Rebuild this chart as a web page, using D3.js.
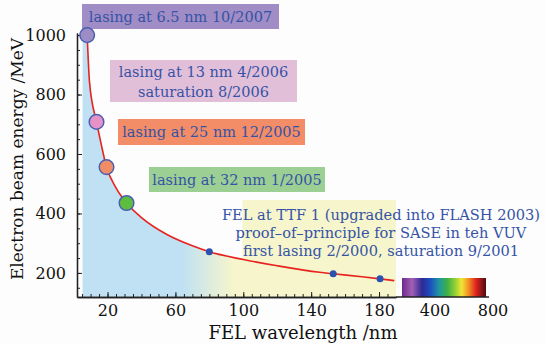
<!DOCTYPE html>
<html>
<head>
<meta charset="utf-8">
<script src="https://cdn.jsdelivr.net/npm/d3@7"></script>
<style>
  body { margin: 0; background: #fdfdfd; }
  svg { font-family: "DejaVu Serif", serif; }
</style>
</head>
<body>
<svg width="546" height="344"></svg>
<script>
// wavelength (nm) and beam energy (MeV)
const curveNm = [5.3, 8, 9.4, 13.5, 16, 19.4, 25, 31.2, 40, 55, 70, 80, 100, 120, 145, 153, 170, 180.6, 189];
const curveMeV = [985, 1000, 840, 708, 640, 556, 486, 435, 386, 329, 291, 271, 245, 224, 202, 197, 187, 180, 174];

// milestone points (big circles)
const milestoneNm = [8, 13.5, 19.4, 31.2];
const milestoneMeV = [1000, 708, 556, 435];
const milestoneColor = ['#9d8cc6', '#e592c8', '#f08c66', '#5dbd3f'];
const noteColor = ['#a08dc5', '#e2bfd9', '#f28d68', '#9ccf93'];

// TTF1 points (small dots)
const ttfNm = [80, 153, 180.6];
const ttfMeV = [271, 197, 180];

const xTicks = [20, 60, 100, 140, 180];
const yTicks = [200, 400, 600, 800, 1000];
const spectrumTicks = [400, 800];

const notes = [
    ['lasing at 6.5 nm 10/2007'],
    ['lasing at 13 nm 4/2006', 'saturation 8/2006'],
    ['lasing at 25 nm 12/2005'],
    ['lasing at 32 nm 1/2005'],
];
const ttfNote = [
    'FEL at TTF 1 (upgraded into FLASH 2003)',
    'proof\u2013of\u2013principle for SASE in teh VUV',
    'first lasing 2/2000, saturation 9/2001',
];

const svg = d3.select('svg');

const xScale = d3.scaleLinear().domain([2, 190]).range([77, 396]);
const yScale = d3.scaleLinear().domain([119, 1007]).range([297, 33]);
const specScale = d3.scaleLinear().domain([400, 800]).range([435, 493]);

const blue = '#bfe1f3';
const yellow = '#f6f5cc';
const textBlue = '#3553a6';

// gradient for the area under the curve
const defs = svg.append('defs');
const grad = defs.append('linearGradient')
    .attr('id', 'fill')
    .attr('gradientUnits', 'userSpaceOnUse')
    .attr('x1', xScale(64)).attr('x2', xScale(94))
    .attr('y1', 0).attr('y2', 0);
grad.append('stop').attr('offset', 0).attr('stop-color', blue);
grad.append('stop').attr('offset', 1).attr('stop-color', yellow);

const spec = defs.append('linearGradient').attr('id', 'spec');
[['0', '#6b2b8b'], ['0.12', '#a260b4'], ['0.24', '#2b2a96'], ['0.34', '#1d4fbf'],
 ['0.44', '#1f95a2'], ['0.54', '#3fb043'], ['0.64', '#9ad234'], ['0.71', '#f2e633'],
 ['0.79', '#f29224'], ['0.88', '#e0231f'], ['1', '#4f0a12']]
    .forEach(s => spec.append('stop').attr('offset', s[0]).attr('stop-color', s[1]));

// yellow box behind TTF note
svg.append('rect')
    .attr('x', xScale(99.5)).attr('y', yScale(445))
    .attr('width', xScale(190) - xScale(99.5))
    .attr('height', yScale(119) - yScale(445))
    .attr('fill', yellow);

const pts = curveNm.map((d, i) => ({ nm: d, mev: curveMeV[i] }));

const area = d3.area()
    .x(d => xScale(d.nm))
    .y0(yScale(119))
    .y1(d => yScale(d.mev))
    .curve(d3.curveMonotoneX);

svg.append('path')
    .datum(pts)
    .attr('d', area)
    .attr('fill', 'url(#fill)');

const line = d3.line()
    .x(d => xScale(d.nm))
    .y(d => yScale(d.mev))
    .curve(d3.curveMonotoneX);

svg.append('path')
    .datum(pts.slice(1))
    .attr('d', line)
    .attr('fill', 'none')
    .attr('stroke', '#e8231f')
    .attr('stroke-width', 1.6);

// axes
svg.append('g')
    .attr('transform', `translate(${xScale(2)},0)`)
    .call(d3.axisLeft(yScale).tickValues(yTicks).tickFormat(d3.format('d'))
        .tickSizeInner(-5).tickSizeOuter(0).tickPadding(11));
svg.append('g')
    .attr('transform', `translate(${xScale(2)},0)`)
    .call(d3.axisLeft(yScale).tickValues(d3.range(150, 1001, 50)).tickSizeInner(-3).tickSizeOuter(0).tickFormat(''));

svg.append('g')
    .attr('transform', `translate(0,${yScale(119)})`)
    .call(d3.axisBottom(xScale).tickValues(xTicks).tickSizeInner(-5).tickSizeOuter(0).tickPadding(8));
svg.append('g')
    .attr('transform', `translate(0,${yScale(119)})`)
    .call(d3.axisBottom(xScale).tickValues(d3.range(5, 190, 5)).tickSizeInner(-3).tickSizeOuter(0).tickFormat(''));

svg.selectAll('.domain').attr('stroke', '#222').attr('stroke-width', 1.3);
svg.selectAll('.tick line').attr('stroke', '#222');
svg.selectAll('.tick text')
    .attr('font-family', '"DejaVu Serif", serif')
    .attr('font-size', 16)
    .attr('fill', '#111');

// spectrum bar
svg.append('rect')
    .attr('x', 402).attr('y', 278)
    .attr('width', 84).attr('height', 19)
    .attr('fill', 'url(#spec)');
svg.append('line')
    .attr('x1', xScale(190)).attr('x2', 489)
    .attr('y1', yScale(119)).attr('y2', yScale(119))
    .attr('stroke', '#222').attr('stroke-width', 1.3);
svg.selectAll('.spec-label')
    .data(spectrumTicks)
    .enter()
    .append('text')
    .attr('x', d => specScale(d))
    .attr('y', 316)
    .attr('text-anchor', 'middle')
    .attr('font-size', 16)
    .attr('fill', '#111')
    .text(d => d);

// axis titles
svg.append('text')
    .attr('x', 303).attr('y', 339)
    .attr('text-anchor', 'middle')
    .attr('font-size', 18)
    .attr('fill', '#111')
    .text('FEL wavelength /nm');
svg.append('text')
    .attr('transform', 'translate(23,159) rotate(-90)')
    .attr('text-anchor', 'middle')
    .attr('font-size', 17)
    .attr('fill', '#111')
    .text('Electron beam energy /MeV');

// milestone labels
const noteBoxes = [
    { x: 82, y: 4, w: 197, h: 25 },
    { x: 110, y: 60, w: 187, h: 42 },
    { x: 118, y: 119, w: 187, h: 26 },
    { x: 149, y: 167, w: 176, h: 25 },
];
notes.forEach((lines, i) => {
    const b = noteBoxes[i];
    svg.append('rect')
        .attr('x', b.x).attr('y', b.y)
        .attr('width', b.w).attr('height', b.h)
        .attr('fill', noteColor[i]);
    const t = svg.append('text')
        .attr('text-anchor', 'middle')
        .attr('font-size', 14.5)
        .attr('fill', textBlue);
    lines.forEach((s, j) => {
        t.append('tspan')
            .attr('x', b.x + b.w / 2)
            .attr('y', b.y + 18 + j * 20 - (lines.length > 1 ? 1 : 0))
            .text(s);
    });
});

// TTF note
const tt = svg.append('text')
    .attr('text-anchor', 'middle')
    .attr('font-size', 14.6)
    .attr('fill', textBlue);
ttfNote.forEach((s, j) => {
    tt.append('tspan').attr('x', 381).attr('y', 220 + j * 18).text(s);
});

// points
svg.selectAll('.ttf')
    .data(ttfNm)
    .enter()
    .append('circle')
    .attr('cx', d => xScale(d))
    .attr('cy', (d, i) => yScale(ttfMeV[i]))
    .attr('r', 3.5)
    .attr('fill', '#2a52ae');

svg.selectAll('.milestone')
    .data(milestoneNm)
    .enter()
    .append('circle')
    .attr('cx', d => xScale(d))
    .attr('cy', (d, i) => yScale(milestoneMeV[i]))
    .attr('r', 7.3)
    .attr('fill', (d, i) => milestoneColor[i])
    .attr('stroke', '#4b5fb0')
    .attr('stroke-width', 1.5);
</script>
</body>
</html>
